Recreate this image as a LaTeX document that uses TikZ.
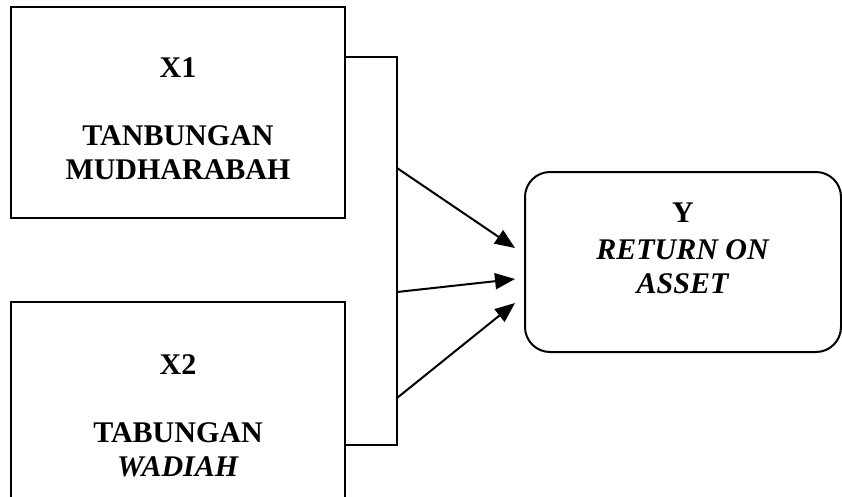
\documentclass[tikz,border=0pt]{standalone}
\usepackage{fontspec}
\setmainfont{Liberation Serif}
\usetikzlibrary{arrows.meta}

\begin{document}
\begin{tikzpicture}[x=1pt,y=-1pt,line width=2pt,
        every node/.style={font=\fontsize{30}{34}\selectfont\bfseries, align=center},
        arr/.style={-{Triangle[length=20pt,width=16pt]}}]
        \useasboundingbox (0,0) rectangle (842,496);
        \clip (0,0) rectangle (842,496);

        \node[draw, minimum width=334pt, minimum height=211pt] (x1) at (178, 112) { \rule{0pt}{34pt}X1\\[34pt] TANBUNGAN\\ MUDHARABAH };
        \node[draw, minimum width=334pt, minimum height=222pt] (x2) at (178, 413) { \rule{0pt}{25pt}X2\\[34pt] TABUNGAN\\ \textit{WADIAH} };
        \node[draw, rounded corners=25pt, minimum width=316pt, minimum height=180pt, text depth=27pt] (y) at (683, 262) { Y\\[3pt] \textit{RETURN ON}\\ \textit{ASSET} };

        \coordinate (b1) at (397, 57);
        \coordinate (b2) at (397, 445);
        \draw (x1.east |- b1) -- (b1) -- (b2) -- (x2.east |- b2);

        \coordinate (a1) at (397, 168);
        \coordinate (a2) at (397, 292);
        \coordinate (a3) at (397, 398);
        \coordinate (t1) at (515, 248);
        \coordinate (t2) at (515, 279);
        \coordinate (t3) at (515, 303);

        \draw[arr] (a1) -- (t1);
        \draw[arr] (a2) -- (t2);
        \draw[arr] (a3) -- (t3);

    \end{tikzpicture}
\end{document}
